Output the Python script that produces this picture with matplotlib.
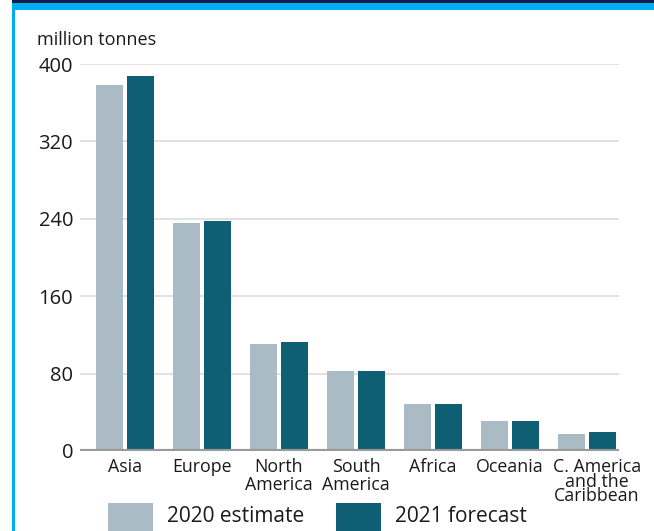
import matplotlib
matplotlib.use("Agg")
import matplotlib.pyplot as plt
from matplotlib.patches import Rectangle
import numpy as np

plt.rcParams['font.family'] = ['Open Sans', 'DejaVu Sans']

regions = ["Asia", "Europe", "North\nAmerica", "South\nAmerica", "Africa", "Oceania",
           "C. America\nand the\nCaribbean"]
estimate_2020 = [378, 236, 111, 83, 49, 31, 18]
forecast_2021 = [388, 238, 113, 83, 49, 31, 20]
yticks = [0, 80, 160, 240, 320, 400]
series_labels = ["2020 estimate", "2021 forecast"]

c_light = "#aabbc5"
c_dark = "#0f5f74"
navy = "#0b1d48"
cyan = "#00aeef"
txt = "#1a1a1a"

W, H = 654, 531
fig = plt.figure(figsize=(W / 100, H / 100), dpi=100)

def fx(px):
    return px / W

def fy(py):
    return 1 - py / H

# frame: navy rule, cyan band, cyan left border
fig.patches.append(Rectangle((fx(12), fy(3)), 1 - fx(12), 3 / H, transform=fig.transFigure,
                             facecolor=navy, edgecolor="none"))
fig.patches.append(Rectangle((fx(12), fy(10)), 1 - fx(12), 7 / H, transform=fig.transFigure,
                             facecolor=cyan, edgecolor="none"))
fig.patches.append(Rectangle((fx(12), 0), 2.5 / W, fy(3), transform=fig.transFigure,
                             facecolor=cyan, edgecolor="none"))

ax = fig.add_axes([fx(80), fy(451), fx(619) - fx(80), (451 - 64) / H])
x = np.arange(len(regions))
bw = 0.35
off = 0.2
ax.bar(x - off, estimate_2020, width=bw, color=c_light, zorder=3)
ax.bar(x + off, forecast_2021, width=bw, color=c_dark, zorder=3)

ax.set_xlim(-0.584, len(regions) - 0.584)
ax.set_ylim(0, 400)
ax.set_yticks(yticks)
ax.set_yticklabels([str(v) for v in yticks], fontsize=14.5, color=txt)
ax.yaxis.grid(True, color="#dcdcdc", lw=1.2, zorder=0)
ax.tick_params(axis="y", length=0, pad=5)
ax.axhline(0, color="#9a9a9a", lw=3, zorder=4)
for s in ax.spines.values():
    s.set_visible(False)

# category labels; the last one is nudged right and set in tighter lines
ax.set_xticks([])
for i, name in enumerate(regions):
    last = i == len(regions) - 1
    ax.text(x[i] + (0.13 if last else 0), -7.5, name, fontsize=12.8, ha="center", va="top",
            color=txt, linespacing=0.74 if last else 1.0, clip_on=False)

fig.text(fx(37), fy(40), "million tonnes", fontsize=13, color=txt, va="center", ha="left")

# legend
for (px, label, col) in [(108, series_labels[0], c_light), (336, series_labels[1], c_dark)]:
    fig.patches.append(Rectangle((fx(px), 0), 45 / W, fy(503), transform=fig.transFigure,
                                 facecolor=col, edgecolor="none"))
    fig.text(fx(px + 59), fy(517), label, fontsize=15, color=txt, va="center", ha="left")

fig.savefig("out.png", dpi=100)
